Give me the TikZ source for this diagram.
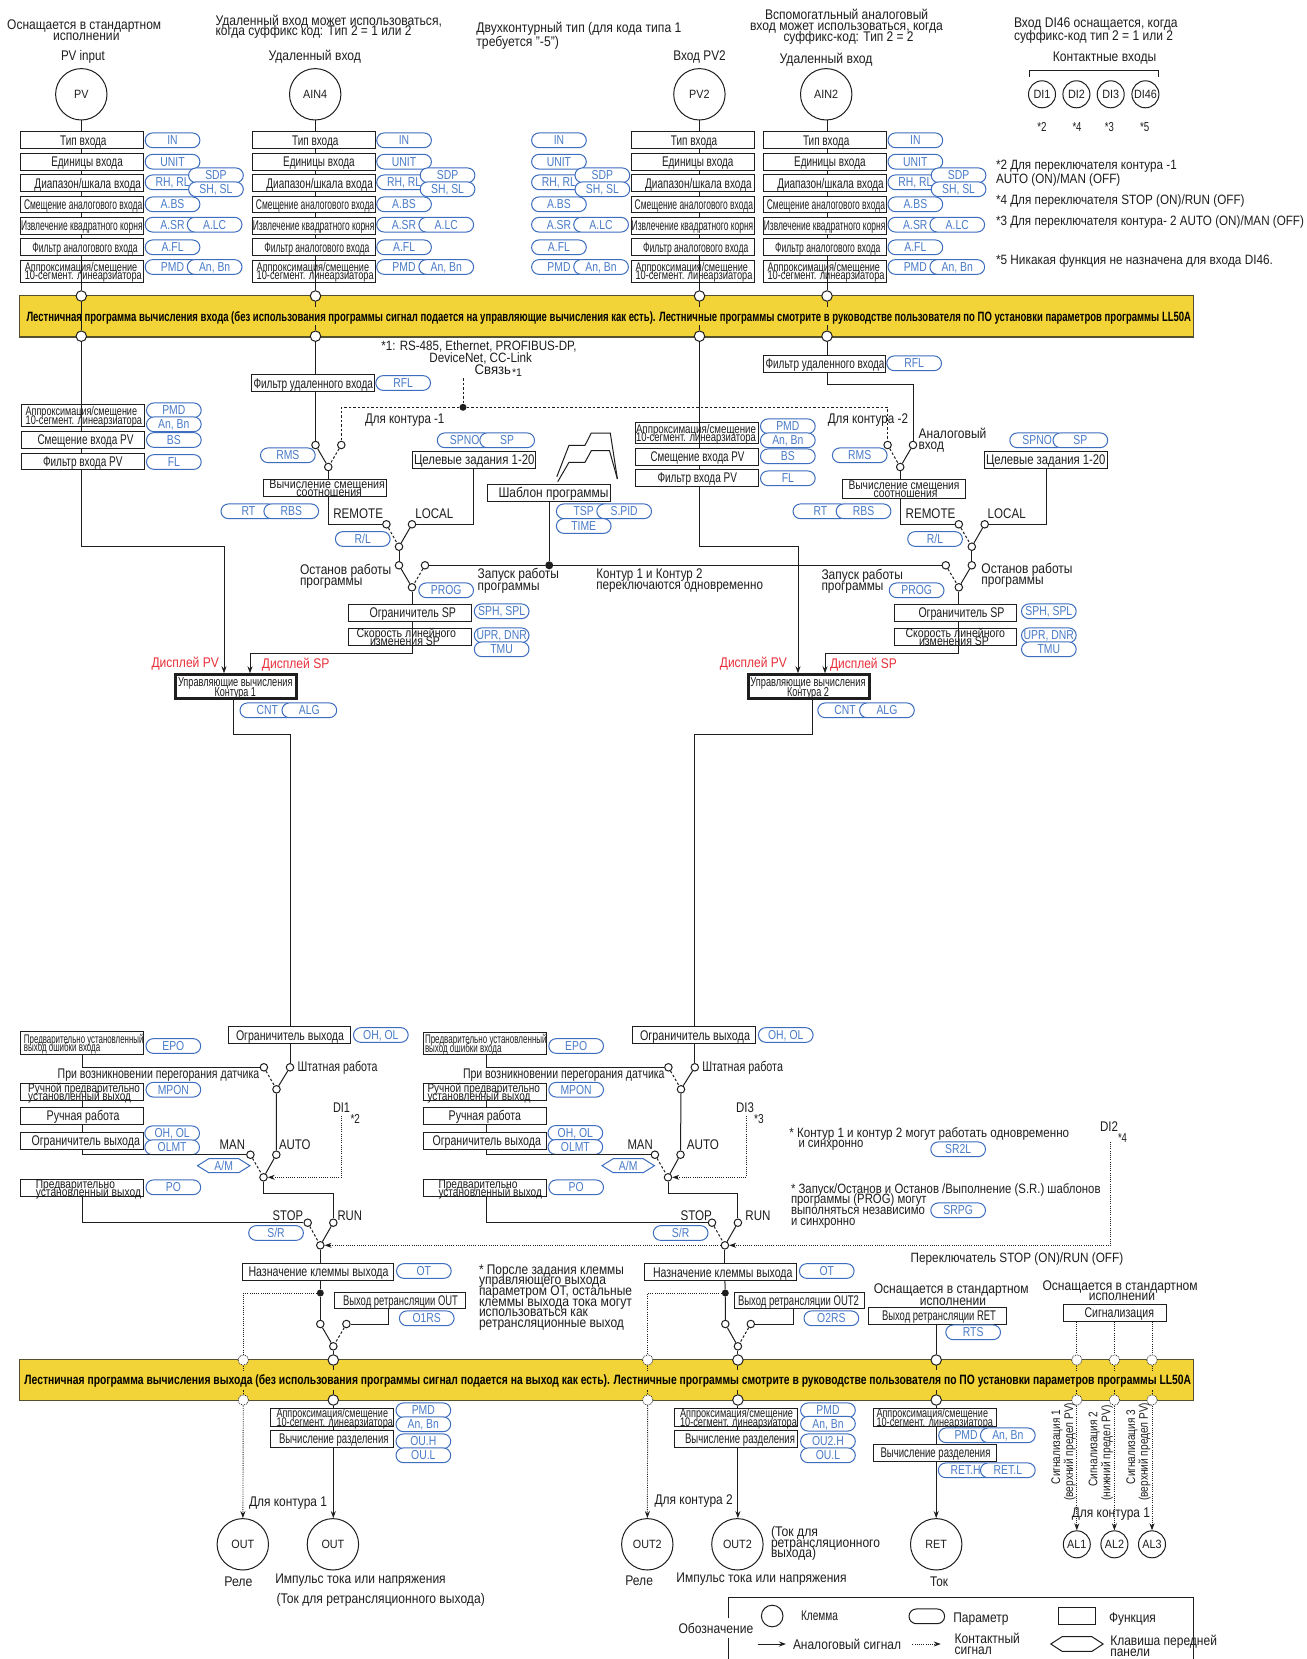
\documentclass[tikz,border=0pt]{standalone}
\usepackage{fontspec}
\usepackage{graphicx}
\setmainfont{Liberation Sans}
\usetikzlibrary{arrows.meta,shapes.misc,calc}
\AtBeginDocument{\lineskiplimit=-100pt\relax}
\definecolor{ink}{HTML}{1E1E1E}
\definecolor{barfill}{HTML}{F2D338}
\definecolor{barline}{HTML}{55512E}
\definecolor{pline}{HTML}{3C6DBE}
\definecolor{ptext}{HTML}{4A7BC8}
\definecolor{dispred}{HTML}{E8303A}
\newsavebox\fitbox
\newcounter{tn}
\newcommand\fit[2]{\sbox\fitbox{#2}\pgfmathsetmacro\fitscale{(#1)/\the\wd\fitbox}\scalebox{\fitscale}[1]{\usebox\fitbox}}
% free text: [size]{x1}{x2}{y}{text}
\newcommand\Tx[5][14]{\stepcounter{tn}\pgfmathsetmacro\tcx{(#2+#3)/2}\pgfmathsetmacro\tby{#4+0.34*#1}%
 \node[txt,font=\fontsize{#1}{#1}\selectfont] (t\arabic{tn}) at (\tcx,\tby) {\fit{#3-#2}{#5}};}
% rotated text
\newcommand\Rt[5][12.5]{\stepcounter{tn}\pgfmathsetmacro\tcy{(#3+#4)/2}%
 \node[rotate=90,inner sep=0pt,text=ink,font=\fontsize{#1}{#1}\selectfont] (t\arabic{tn}) at (#2,\tcy) {\fit{#3-#4}{#5}};}
% function box: [style]{name}{x1}{x2}{y1}{y2}{content}
\newcommand\FB[7][fn]{\pgfmathsetmacro\bw{#4-#3}\pgfmathsetmacro\bh{#6-#5}\pgfmathsetmacro\bcx{(#3+#4)/2}\pgfmathsetmacro\bcy{(#5+#6)/2}\pgfmathsetmacro\bxl{#3}%
 \node[#1,minimum width=\bw pt,minimum height=\bh pt] (#2) at (\bcx,\bcy) {#7};}
\newcommand\BL[3]{\makebox[\bw pt][l]{\rule{0pt}{.72em}\hspace*{#1pt}\smash{\fit{#2}{#3}}}}
\newcommand\BA[3]{\pgfmathsetmacro\boff{#1-\bxl}\pgfmathsetmacro\bwid{#2-#1}\BL{\boff}{\bwid}{#3}}
% parameter pill: [w]{name}{x1}{y}{text}
\newcommand\PL[5][54.7]{\pgfmathsetmacro\pcx{#3+#1/2}\node[pill,minimum width=#1 pt] (#2) at (\pcx,#4) {\rule{0pt}{.72em}\smash{\scalebox{.8}[1]{#5}}};}
\newcommand\lab[1]{\rule{0pt}{.72em}\smash{\scalebox{.9}[1]{#1}}}
% hexagon key
\newcommand\HX[5][]{\draw[pl] (#3-26.2,#4) -- (#3-15,#4-7) -- (#3+15,#4-7) -- (#3+26.2,#4) -- (#3+15,#4+7) -- (#3-15,#4+7) -- cycle;
 \node[inner sep=0pt,text=ptext,font=\fontsize{13}{13}\selectfont] (#2) at (#3,#4) {\rule{0pt}{.72em}\smash{\scalebox{.8}[1]{#5}}};}
% switch: {name}{solid x}{dash x}{y top}{out x}{out y}
\newcommand\SW[6]{\node[term] (#1s) at (#2,#4) {}; \node[term] (#1d) at (#3,#4) {}; \node[term] (#1o) at (#5,#6) {};
 \draw[wire] (#1s) -- (#1o); \draw[wire,dsh] (#1d) -- (#1o);}
% input column
\newcommand\InCol[7]{%
 \node[big] (#1c) at (#3,94.3) {\lab{#4}};
 \coordinate (#1w) at (#2,0);
 \pgfmathsetmacro\brgt{#5+122.9}%
 \edef\bRR{\brgt}%
 \FB{#1typ}{#5}{\bRR}{131.7}{148.7}{\BL{39.6}{46.3}{Тип входа}}
 \FB{#1uni}{#5}{\bRR}{153.3}{170}{\BL{30.7}{71.5}{Единицы входа}}
 \FB{#1rng}{#5}{\bRR}{174.7}{191.3}{\BL{13.9}{106.5}{Диапазон/шкала входа}}
 \FB{#1abs}{#5}{\bRR}{196}{212.7}{\BL{3.4}{118.3}{Смещение аналогового входа}}
 \FB{#1sqr}{#5}{\bRR}{217.3}{234}{\BL{.4}{121.6}{Извлечение квадратного корня}}
 \FB{#1afl}{#5}{\bRR}{238.7}{255.3}{\BL{11.8}{105.2}{Фильтр аналогового входа}}
 \FB[fnb]{#1lin}{#5}{\bRR}{260}{282}{\BL{4.2}{112.4}{Аппроксимация/смещение}\\\BL{4.2}{117}{10-сегмент.  линеарзиатора}}
 \PL{#1pi}{#6}{140.3}{IN}\PL{#1pu}{#6}{161.7}{UNIT}\PL{#1pr}{#6}{182.3}{RH, RL}
 \PL{#1ps}{#7}{175.3}{SDP}\PL{#1pt}{#7}{189.3}{SH, SL}
 \PL{#1pb}{#6}{204.3}{A.BS}\PL{#1pq}{#6}{224.7}{A.SR}\pgfmathsetmacro\lcx{#7-1.3}\edef\lcX{\lcx}\PL{#1pl}{\lcX}{224.7}{A.LC}
 \PL{#1pf}{#6}{247.3}{A.FL}\PL{#1pm}{#6}{267}{PMD}\PL{#1pa}{\lcX}{267}{An, Bn}
 \node[bc] (#1bt) at (#2,296) {}; \node[bc] (#1bb) at (#2,336.2) {};
 \draw[wire] (#1c.south -| #1w) -- (#1typ.north -| #1w)
   (#1typ.south -| #1w) -- (#1uni.north -| #1w)
   (#1uni.south -| #1w) -- (#1rng.north -| #1w)
   (#1rng.south -| #1w) -- (#1abs.north -| #1w)
   (#1abs.south -| #1w) -- (#1sqr.north -| #1w)
   (#1sqr.south -| #1w) -- (#1afl.north -| #1w)
   (#1afl.south -| #1w) -- (#1bt);
 \draw[wire] (#1bt.south) -- ++(0,5) (#1bb.north) -- ++(0,-5);
}
\tikzset{
 txt/.style={anchor=base,inner sep=0pt,text=ink},
 fn/.style={draw=ink,fill=white,line width=1pt,inner sep=0pt,align=center,text=ink,font=\fontsize{14}{14}\selectfont},
 fnb/.style={fn,font=\fontsize{12.5}{8.5}\selectfont},
 fnc/.style={fn,line width=3pt,font=\fontsize{13}{10.5}\selectfont},
 pill/.style={shape=rounded rectangle,draw=pline,fill=white,line width=1pt,minimum height=14.7pt,inner sep=0pt,text=ptext,font=\fontsize{13}{13}\selectfont},
 pl/.style={draw=pline,line width=1pt},
 big/.style={circle,draw=ink,fill=white,line width=1pt,minimum size=51.4pt,inner sep=0pt,text=ink,font=\fontsize{12}{12}\selectfont},
 med/.style={circle,draw=ink,fill=white,line width=1pt,minimum size=27pt,inner sep=0pt,text=ink,font=\fontsize{12}{12}\selectfont},
 term/.style={circle,draw=ink,fill=white,line width=1pt,minimum size=7.5pt,inner sep=0pt},
 bc/.style={circle,draw=ink,fill=white,line width=1pt,minimum size=10.5pt,inner sep=0pt},
 bcd/.style={circle,draw=ink,densely dotted,fill=white,line width=.8pt,minimum size=10.5pt,inner sep=0pt},
 dotj/.style={circle,fill=ink,minimum size=7pt,inner sep=0pt},
 wire/.style={draw=ink,line width=1pt},
 dsh/.style={dash pattern=on 2.5pt off 2pt},
 dot/.style={draw=ink,line width=.9pt,dash pattern=on 1pt off 1.2pt},
 arr/.style={-{Stealth[length=7pt,width=5pt]}},
 barbox/.style={draw=barline,fill=barfill,line width=1.3pt,inner sep=0pt,text=black,font=\fontsize{13.5}{13.5}\selectfont\bfseries},
}
\begin{document}
\begin{tikzpicture}[x=1pt,y=-1pt]
\useasboundingbox (0,0) rectangle (1306,1659);
\fill[white] (0,0) rectangle (1306,1659);
% ---- bars
\FB[barbox]{bar1}{19.4}{1193.5}{295.7}{337}{\BA{26.5}{1191}{Лестничная программа вычисления входа (без использования программы сигнал подается на управляющие вычисления как есть). Лестничные программы смотрите в руководстве пользователя  по ПО установки параметров программы LL50A}}
\FB[barbox]{bar2}{19.4}{1193.5}{1359.3}{1400.7}{\BA{24.4}{1191}{Лестничная программа вычисления выхода (без использования программы сигнал подается на выход как есть). Лестничные программы смотрите в руководстве пользователя  по ПО установки параметров программы LL50A}}
% ---- header texts
\Tx{7.2}{161.2}{25}{Оснащается в стандартном}
\Tx{53}{119.5}{36}{исполнении}
\Tx{61}{104.8}{56}{PV input}
\Tx{215.5}{442}{21}{Удаленный вход может использоваться,}
\Tx{215.5}{411.6}{31}{когда суффикс код: Тип 2 = 1 или 2}
\Tx{268.5}{361}{55.7}{Удаленный вход}
\Tx{476.4}{681.4}{28}{Двухконтурный тип  (для кода типа 1}
\Tx{476.4}{558.9}{41.7}{требуется "-5")}
\Tx{765}{928.2}{14.7}{Вспомогатльный аналоговый}
\Tx{750}{942.9}{25.7}{вход может использоваться, когда}
\Tx{783.5}{913.6}{36.3}{суффикс-код: Тип 2 = 2}
\Tx{673.4}{725.7}{56}{Вход PV2}
\Tx{779.7}{872.6}{58.7}{Удаленный вход}
\Tx{1014}{1177.6}{22.7}{Вход DI46 оснащается, когда}
\Tx{1014}{1173}{35.7}{суффикс-код тип 2 = 1 или 2}
\Tx{1052.9}{1156.3}{56.7}{Контактные входы}
\draw[wire] (1029,77) -- (1029,71) -- (1158,71) -- (1158,77);
\node[med] (di1) at (1042,94.3) {\lab{DI1}};
\node[med] (di2) at (1076.4,94.3) {\lab{DI2}};
\node[med] (di3) at (1110.7,94.3) {\lab{DI3}};
\node[med] (di4) at (1145.4,94.3) {\lab{DI46}};
\Tx[13]{1037.4}{1046.7}{127}{*2}
\Tx[13]{1072.5}{1081.5}{127}{*4}
\Tx[13]{1104.9}{1113.9}{127}{*3}
\Tx[13]{1140}{1149.2}{127}{*5}
\Tx[13.5]{996}{1176.8}{165.3}{*2 Для переключателя контура -1}
\Tx[13.5]{996}{1120.3}{179}{AUTO (ON)/MAN (OFF)}
\Tx[13.5]{996}{1244.6}{200}{*4 Для переключателя STOP (ON)/RUN (OFF)}
\Tx[13.5]{996}{1304}{221}{*3 Для переключателя контура- 2 AUTO (ON)/MAN (OFF)}
\Tx[13.5]{996}{1273}{260}{*5 Никакая функция не назначена для входа  DI46.}
% ---- input columns
\InCol{c1}{81.3}{81.3}{PV}{20.6}{145.2}{188.6}
\InCol{c2}{315.5}{315.2}{AIN4}{252.5}{376.7}{420.2}
\InCol{c3}{699.5}{699.4}{PV2}{631.3}{531.6}{575}
\InCol{c4}{827}{826.2}{AIN2}{763.4}{888}{931.2}
\draw[wire] (c1bt) -- (c1bb);
% ---- middle: loop 1 side
\Tx[13.5]{381.3}{576.6}{346}{*1: RS-485, Ethernet, PROFIBUS-DP,}
\Tx[13.5]{429.3}{532}{358}{DeviceNet, CC-Link}
\Tx{474.7}{511}{369.7}{Связь}
\Tx[11]{512}{522}{372.7}{*1}
\Tx{365}{444.4}{419}{Для контура -1}
\FB[fnb]{p1lin}{21.5}{144.4}{404.3}{426.7}{\BA{25.7}{137}{Аппроксимация/смещение}\\\BA{25.7}{142}{10-сегмент.  линеарзиатора}}
\FB{p1bs}{21.5}{144.4}{431.3}{448.3}{\BA{37.5}{133.5}{Смещение входа PV}}
\FB{p1fl}{21.5}{144.4}{453}{469.7}{\BA{43}{122.5}{Фильтр входа PV}}
\PL{q1pm}{146.5}{410.3}{PMD}\PL{q1pa}{146.5}{424.3}{An, Bn}\PL{q1bs}{146.5}{440}{BS}\PL{q1fl}{146.5}{462}{FL}
\FB{rfl1}{251.7}{374.6}{374.7}{391.7}{\BA{253.5}{373}{Фильтр удаленного входа}}
\PL{rflp1}{375.8}{383}{RFL}
\PL{rmsp1}{260.5}{455.3}{RMS}
\FB[fnb]{rsb1}{263.9}{386.4}{479.3}{496.3}{\BA{269.4}{385}{Вычисление смещения}\\\BA{296.3}{362}{соотношения}}
\PL{rtp1}{221}{511.3}{RT}\PL{rbs1}{263.9}{511.3}{RBS}
\Tx{333.3}{383}{514}{REMOTE}
\Tx{415.4}{453.3}{514}{LOCAL}
\PL{rlp1}{335.4}{539}{R/L}
\FB{tg1}{412.5}{535.4}{451.3}{468.3}{\BA{414}{534.5}{Целевые задания 1-20}}
\PL{spn1}{437.3}{440.3}{SPNO}\PL{sp1}{479.8}{440.3}{SP}
\FB{tpl}{487.4}{610.7}{484.3}{501.3}{\BA{498.5}{608.5}{Шаблон программы}}
\PL{tsp}{556.4}{511.3}{TSP}\PL{spid}{596.8}{511.3}{S.PID}\PL{tim}{556.4}{526}{TIME}
\draw[ink,line width=1pt] (556.8,476.7) -- (569,445.3) -- (585,445.3) -- (591.3,433) -- (610.3,433) -- (617.4,479);
\draw[ink,line width=1pt] (557.7,481.7) -- (569,462.3) -- (585,462.3) -- (591.3,450.7) -- (609.5,450.7) -- (617.4,479);
\Tx{300}{391.4}{570}{Останов работы}
\Tx{300}{362.5}{580.3}{программы}
\PL{prog1}{418.8}{590.3}{PROG}
\Tx{477.7}{559}{574}{Запуск работы}
\Tx{477.7}{539.6}{585.3}{программы}
\Tx{596.4}{702.5}{574}{Контур 1 и Контур 2}
\Tx{596.4}{763}{584.3}{переключаются одновременно}
\FB{sl1}{348.9}{471.4}{604}{621}{\BA{369.5}{456}{Ограничитель SP}}
\PL{slp1}{474.3}{611.3}{SPH, SPL}
\FB[fnb]{rr1}{348.9}{471.4}{628.3}{645.3}{\BA{356.5}{456}{Скорость линейного}\\\BA{370}{440}{изменения SP}}
\PL{upr1}{474.3}{635.3}{UPR, DNR}\PL{tmu1}{474.3}{649.3}{TMU}
\begin{scope}[txt/.append style={text=dispred}]
\Tx{151.5}{218.9}{662.7}{Дисплей PV}
\Tx{261.8}{329.5}{663.3}{Дисплей SP}
\Tx{719.9}{786.8}{662.7}{Дисплей PV}
\Tx{830}{896.9}{663.3}{Дисплей SP}
\end{scope}
\FB[fnc]{ctl1}{175.3}{296.1}{674.8}{698.5}{\BA{178}{292.5}{Управляющие вычисления}\\\BA{214.5}{256}{Контура 1}}
\PL{cnt1}{240}{710.3}{CNT}\PL{alg1}{282}{710.3}{ALG}
% ---- middle: loop 2 side
\Tx{827.8}{908}{418.3}{Для контура -2}
\Tx{918.6}{986.4}{433.7}{Аналоговый}
\Tx{918.6}{944}{445}{вход}
\FB[fnb]{p2lin}{635.5}{758.8}{422.7}{443.3}{\BA{636}{756}{Аппроксимация/смещение}\\\BA{636}{756}{10-сегмент.  линеарзиатора}}
\FB{p2bs}{635.5}{758.8}{448.3}{465.3}{\BA{650.5}{744.5}{Смещение входа PV}}
\FB{p2fl}{635.5}{758.8}{469.3}{486.3}{\BA{657.5}{737}{Фильтр входа PV}}
\PL{q2pm}{760.5}{426.3}{PMD}\PL{q2pa}{760.5}{440.3}{An, Bn}\PL{q2bs}{760.5}{456.3}{BS}\PL{q2fl}{760.5}{478.3}{FL}
\FB{rfl2}{763}{885.6}{355}{372}{\BA{765.5}{884.5}{Фильтр удаленного входа}}
\PL{rflp2}{886.8}{363.3}{RFL}
\PL{rmsp2}{832.4}{455.3}{RMS}
\FB[fnb]{rsb2}{842.5}{965.5}{479.3}{498.7}{\BA{848.5}{959.5}{Вычисление смещения}\\\BA{873.5}{937.5}{соотношения}}
\PL{rtp2}{793}{511.3}{RT}\PL{rbs2}{836.2}{511.3}{RBS}
\Tx{905.6}{955.4}{514}{REMOTE}
\Tx{987.7}{1025.7}{514}{LOCAL}
\PL{rlp2}{907.7}{539}{R/L}
\FB{tg2}{984.7}{1107.3}{451.3}{468.3}{\BA{986}{1105.5}{Целевые задания 1-20}}
\PL{spn2}{1009.8}{440.3}{SPNO}\PL{sp2}{1053}{440.3}{SP}
\Tx{981.4}{1072.6}{569}{Останов работы}
\Tx{981.4}{1043.7}{579.3}{программы}
\Tx{821.5}{903}{575}{Запуск работы}
\Tx{821.5}{883.5}{586}{программы}
\PL{prog2}{889.3}{590.3}{PROG}
\FB{sl2}{894.4}{1016.5}{604}{621}{\BA{918.5}{1004.5}{Ограничитель SP}}
\PL{slp2}{1021.5}{611.3}{SPH, SPL}
\FB[fnb]{rr2}{894.4}{1016.5}{628.3}{645.3}{\BA{905.5}{1005}{Скорость линейного}\\\BA{919}{989}{изменения SP}}
\PL{upr2}{1021.5}{635.3}{UPR, DNR}\PL{tmu2}{1021.5}{649.3}{TMU}
\FB[fnc]{ctl2}{748.2}{869.5}{674.8}{698.8}{\BA{750.4}{865.5}{Управляющие вычисления}\\\BA{787}{829}{Контура 2}}
\PL{cnt2}{817.8}{710.3}{CNT}\PL{alg2}{859.6}{710.3}{ALG}
% ---- middle switches and wires
\SW{rms1}{315.5}{341.3}{445}{328.3}{467}
\SW{rl1}{412}{386.4}{524.3}{399}{546.7}
\SW{pr1}{399}{425}{565.3}{412}{587.3}
\SW{rms2}{913}{887.6}{445}{900.2}{467}
\SW{rl2}{984.7}{958.8}{524.3}{971.8}{546.7}
\SW{pr2}{971.8}{945.8}{565.3}{958.8}{587.3}
\node[dotj] (jcomm) at (463,407.3) {};
\coordinate (commtop) at (463,378);
\draw[wire,dsh] (commtop) -- (jcomm);
\draw[wire,dsh] (jcomm) -| (rms1d);
\draw[wire,dsh] (jcomm) -| (rms2d);
\node[dotj,minimum size=8pt] (jprog) at (549.2,565.3) {};
\draw[wire] (pr1d) -- (jprog) -- (pr2d);
\draw[wire] (tpl.south -| jprog) -- (jprog);
% loop 1 lines
\coordinate (k1) at (224,546.3); \coordinate (k3) at (250,653.3); \coordinate (k2) at (473.5,524.3);
\draw[wire] (c1bb) -- (p1bs.north -| c1w) (p1bs.south -| c1w) -- (p1fl.north -| c1w);
\draw[wire,arr] (p1fl.south -| c1w) |- (k1) -- (ctl1.north -| k1);
\draw[wire] (c2bb) -- (rfl1.north -| c2w) (rfl1.south -| c2w) -- (rms1s);
\draw[wire] (rms1o) -- (rsb1.north -| rms1o);
\draw[wire] (rsb1.south -| rms1o) |- (rl1d);
\draw[wire] (rl1s) -- (k2) -- (tg1.south -| k2);
\draw[wire] (rl1o) -- (pr1s);
\draw[wire] (pr1o) -- (sl1.north -| pr1o);
\draw[wire,arr] (sl1.south -| pr1o) |- (k3) -- (ctl1.north -| k3);
% loop 2 lines
\coordinate (k4) at (798,546.3); \coordinate (k9) at (825,653.3); \coordinate (k10) at (1046.2,524.3); \coordinate (k11) at (913,384);
\draw[wire] (c3bb) -- (p2bs.north -| c3w) (p2bs.south -| c3w) -- (p2fl.north -| c3w);
\draw[wire,arr] (p2fl.south -| c3w) |- (k4) -- (ctl2.north -| k4);
\draw[wire] (c4bb) -- (rfl2.north -| c4w);
\draw[wire] (rfl2.south -| c4w) |- (k11) -- (rms2s);
\draw[wire] (rms2o) -- (rsb2.north -| rms2o);
\draw[wire] (rsb2.south -| rms2o) |- (rl2d);
\draw[wire] (rl2s) -- (k10) -- (tg2.south -| k10);
\draw[wire] (rl2o) -- (pr2s);
\draw[wire] (pr2o) -- (sl2.north -| pr2o);
\draw[wire,arr] (sl2.south -| pr2o) |- (k9) -- (ctl2.north -| k9);
% ---- output section, loop 1
\FB{ol1}{228.5}{350.6}{1026.7}{1043.3}{\BA{236}{344}{Ограничитель выхода}}
\PL{olp1}{353.5}{1035}{OH, OL}
\Tx{297.6}{377.5}{1066.7}{Штатная работа}
\Tx{57.7}{259.3}{1073.7}{При возникновении перегорания датчика}
\FB[fnb]{ep1}{20.6}{143.5}{1031.7}{1054}{\BA{24}{143.5}{Предварительно установленный}\\\BA{24}{100.2}{выход ошибки входа}}
\PL{epp1}{146}{1046}{EPO}
\FB[fnb]{mp1}{20.6}{143.5}{1083.7}{1100.3}{\BA{28.2}{140}{Ручной предварительно}\\\BA{28.2}{131}{установленный выход}}
\PL{mpp1}{146}{1089.7}{MPON}
\FB{mn1}{20.6}{143.5}{1107.3}{1124.3}{\BA{46.7}{119.5}{Ручная работа}}
\FB{lm1}{20.6}{143.5}{1132.3}{1149.3}{\BA{31.6}{140}{Ограничитель выхода}}
\PL{lmp1}{144.8}{1133.3}{OH, OL}\PL{olm1}{144.8}{1147.3}{OLMT}
\Tx{219.7}{245}{1145}{MAN}
\Tx{279}{310.6}{1145}{AUTO}
\HX{amk1}{223.7}{1165.7}{A/M}
\Tx{333}{350}{1108}{DI1}
\Tx[13]{350.6}{360}{1118.7}{*2}
\FB[fnb]{po1}{20.6}{143.5}{1179.3}{1196.3}{\BA{35.8}{115}{Предварительно}\\\BA{35.8}{141}{установленный выход}}
\PL{pop1}{146}{1187.3}{PO}
\Tx{272.7}{303}{1216}{STOP}
\Tx{337.5}{362}{1216}{RUN}
\PL{srp1}{248.7}{1233}{S/R}
\FB{ot1}{242}{393.5}{1263.3}{1280.3}{\BA{248.5}{388.5}{Назначение клеммы выхода}}
\PL{otp1}{396.5}{1271}{OT}
\FB{rt1}{334.6}{465}{1292}{1308.7}{\BA{343}{458}{Выход ретрансляции OUT}}
\PL{rtp3}{399.4}{1318.3}{O1RS}
\Tx{479}{624}{1270}{* Порсле задания клеммы}
\Tx{479}{606}{1280}{управляющего выхода}
\Tx{479}{632}{1291}{параметром ОТ, остальные}
\Tx{479}{632}{1302}{клеммы выхода тока  могут}
\Tx{479}{588}{1312}{использоваться как}
\Tx{479}{624}{1323}{ретрансляционные выход}
\FB[fnb]{ap1}{270.6}{393.5}{1409}{1426}{\BA{276.5}{388}{Аппроксимация/смещение}\\\BA{276.5}{393}{10-сегмент.  линеарзиатора}}
\PL{app1}{396}{1410.3}{PMD}\PL{apa1}{396}{1424.3}{An, Bn}
\FB{ds1}{270.6}{393.5}{1430.3}{1447.3}{\BA{279}{388.5}{Вычисление разделения}}
\PL{ouh1}{396}{1441.3}{OU.H}\PL{oul1}{396}{1455.3}{OU.L}
\Tx{249}{327}{1502}{Для контура 1}
\Tx{224.3}{252.5}{1581.7}{Реле}
\Tx{275.3}{445.7}{1579}{Импульс тока или напряжения}
\Tx{276.5}{484.8}{1598.7}{(Ток для ретрансляционного выхода)}
\node[big] (outr1) at (242.8,1544.3) {\lab{OUT}};
\node[big] (outp1) at (332.9,1544.3) {\lab{OUT}};
% ---- output section, loop 2
\FB{ol2}{632.6}{755.4}{1026.7}{1043.3}{\BA{640}{750}{Ограничитель выхода}}
\PL{olp2}{758.4}{1035}{OH, OL}
\Tx{702.3}{783}{1066.7}{Штатная работа}
\Tx{463}{664.6}{1073.7}{При возникновении перегорания датчика}
\FB[fnb]{ep2}{423.8}{546.7}{1032.7}{1054.3}{\BA{425}{546.7}{Предварительно установленный}\\\BA{425}{501.5}{выход ошибки входа}}
\PL{epp2}{548.8}{1046}{EPO}
\FB[fnb]{mp2}{423.8}{546.7}{1083.7}{1100.3}{\BA{427.5}{540}{Ручной предварительно}\\\BA{427.5}{530.5}{установленный выход}}
\PL{mpp2}{548.8}{1089.7}{MPON}
\FB{mn2}{423.8}{546.7}{1107.3}{1124.3}{\BA{448.7}{521}{Ручная работа}}
\FB{lm2}{423.8}{546.7}{1132.3}{1149.3}{\BA{432.5}{541}{Ограничитель выхода}}
\PL{lmp2}{548}{1133}{OH, OL}\PL{olm2}{548}{1147}{OLMT}
\Tx{627.5}{652.8}{1145}{MAN}
\Tx{686.8}{719}{1145}{AUTO}
\HX{amk2}{628.2}{1165.7}{A/M}
\Tx{736.2}{754}{1108}{DI3}
\Tx[13]{754.2}{763.8}{1118.7}{*3}
\FB[fnb]{po2}{423.8}{546.7}{1179.3}{1196.3}{\BA{438.5}{517.5}{Предварительно}\\\BA{438.5}{542}{установленный выход}}
\PL{pop2}{548.8}{1187.3}{PO}
\Tx{680.5}{712}{1216}{STOP}
\Tx{745.4}{770.5}{1216}{RUN}
\PL{srp2}{653.3}{1233}{S/R}
\FB{ot2}{644.4}{796.4}{1263.7}{1280.3}{\BA{653}{792.5}{Назначение клеммы выхода}}
\PL{otp2}{799.4}{1271}{OT}
\FB{rt2}{734}{864.6}{1292}{1308.7}{\BA{738}{859}{Выход ретрансляции OUT2}}
\PL{rtp4}{804}{1318.3}{O2RS}
\Tx[13.5]{789.3}{1069.2}{1132.7}{* Контур 1 и контур 2 могут работать одновременно}
\Tx[13.5]{798.5}{863.4}{1143}{и синхронно}
\PL{sr2l}{930.8}{1149.3}{SR2L}
\Tx[13.5]{791}{1100.6}{1188.7}{* Запуск/Останов и Останов /Выполнение (S.R.) шаблонов}
\Tx[13.5]{791}{926.6}{1199}{программы (PROG) могут}
\Tx[13.5]{791}{924.9}{1210}{выполняться независимо}
\Tx[13.5]{791}{855.4}{1221}{и синхронно}
\PL{srpg}{930.8}{1210.3}{SRPG}
\Tx{1100}{1118}{1127}{DI2}
\Tx[13]{1118}{1127}{1137.7}{*4}
\Tx[13.5]{910.7}{1123.2}{1258.3}{Переключатель STOP (ON)/RUN (OFF)}
\FB[fnb]{ap2}{674.7}{797.7}{1409}{1426}{\BA{680}{793}{Аппроксимация/смещение}\\\BA{680}{797}{10-сегмент.  линеарзиатора}}
\PL{app2}{800.6}{1410.3}{PMD}\PL{apa2}{800.6}{1423.7}{An, Bn}
\FB{ds2}{674.7}{797.7}{1430.3}{1447.3}{\BA{685}{795}{Вычисление разделения}}
\PL{ouh2}{800.6}{1441.3}{OU2.H}\PL{oul2}{800.6}{1455.3}{OU.L}
\Tx{654.6}{732.8}{1500}{Для контура 2}
\Tx{625.4}{653}{1580.7}{Реле}
\Tx{676.4}{846.6}{1578}{Импульс тока или напряжения}
\Tx{771}{818}{1532}{(Ток для}
\Tx{771}{880}{1543}{ретрансляционного}
\Tx{771}{816}{1553}{выхода)}
\node[big] (outr2) at (647.3,1544.3) {\lab{OUT2}};
\node[big] (outp2) at (737.4,1544.3) {\lab{OUT2}};
% ---- RET column
\Tx{873.8}{1028.7}{1289}{Оснащается в стандартном}
\Tx{919.9}{986}{1300.3}{исполнении}
\FB{rb}{868.4}{1006}{1307}{1324}{\BA{882}{996}{Выход ретрансляции RET}}
\PL{rts}{945.8}{1332.3}{RTS}
\FB[fnb]{rap}{873.8}{996.4}{1409}{1426}{\BA{876.5}{988}{Аппроксимация/смещение}\\\BA{876.5}{993}{10-сегмент.  линеарзиатора}}
\PL{rpm}{938.7}{1435.3}{PMD}\PL{ran}{980.5}{1435.3}{An, Bn}
\FB{rd}{873.8}{996.4}{1444.3}{1461.3}{\BA{880.5}{990.5}{Вычисление разделения}}
\PL{rth}{938.3}{1470.3}{RET.H}\PL{rtl}{980.5}{1470.3}{RET.L}
\node[big] (retc) at (936.2,1544.3) {\lab{RET}};
\Tx{930}{948}{1582}{Ток}
% ---- alarms
\Tx{1042.5}{1197.7}{1286}{Оснащается в стандартном}
\Tx{1088.9}{1155}{1296}{исполнении}
\FB{alb}{1063.8}{1166.7}{1304}{1321}{\BA{1084.5}{1154}{Сигнализация}}
\Rt{1057}{1484}{1410}{Сигнализация 1}
\Rt{1069.7}{1500.7}{1402.7}{(верхний предел PV)}
\Rt{1094.3}{1486.7}{1411.7}{Сигнализация 2}
\Rt{1107}{1500.7}{1405}{(нижний предел PV)}
\Rt{1132}{1484}{1410}{Сигнализация 3}
\Rt{1144.6}{1500.7}{1402.7}{(верхний предел PV)}
\Tx{1071.8}{1150}{1513}{Для контура 1}
\node[med] (al1) at (1076.8,1544.3) {\lab{AL1}};
\node[med] (al2) at (1114.4,1544.3) {\lab{AL2}};
\node[med] (al3) at (1152,1544.3) {\lab{AL3}};
% ---- output switches
\SW{bo1}{290}{263.9}{1067.3}{276.5}{1089.3}
\SW{am1}{276.3}{250.4}{1154.7}{263.5}{1177.3}
\SW{sr1}{333.3}{307.7}{1222.7}{320.3}{1245.3}
\SW{rs1}{320.3}{346.4}{1324}{333.3}{1346.3}
\SW{bo2}{694.8}{668.4}{1067.3}{681}{1089.3}
\SW{am2}{680.5}{654.9}{1154.7}{668}{1177.3}
\SW{sr2}{737.9}{712}{1222.7}{724.9}{1245.3}
\SW{rs2}{725.3}{750.8}{1324}{737.9}{1346.3}
% ---- bar 2 terminals
\foreach \nm/\xx in {a/243.3,c/647.7,p/1076.8,q/1114.4,r/1152}{
 \node[bcd] (\nm bt) at (\xx,1360) {}; \node[bcd] (\nm bb) at (\xx,1400) {};
 \draw[dot] (\nm bt.south) -- ++(0,4.5) (\nm bb.north) -- ++(0,-4.5);}
\foreach \nm/\xx in {b/333.3,d/737.9,e/936.2}{
 \node[bc] (\nm bt) at (\xx,1360) {}; \node[bc] (\nm bb) at (\xx,1400) {};
 \draw[wire] (\nm bt.south) -- ++(0,4.5) (\nm bb.north) -- ++(0,-4.5);}
% ---- output wires loop 1
\coordinate (k5) at (233,734.7); \coordinate (k6) at (290,734.7); \coordinate (xa1) at (82,0);
\coordinate (di1b) at (341.8,1116); \coordinate (di1c) at (341.8,1177.3); \coordinate (k7) at (333.3,1193.7); \coordinate (k8) at (388.5,1324);
\draw[wire] (ctl1.south -| k5) -- (k5) -- (k6) -- (ol1.north -| k6);
\draw[wire] (ol1.south -| k6) -- (bo1s);
\draw[wire] (ep1.south -| xa1) |- (bo1d);
\draw[wire] (bo1o) -- (am1s);
\draw[wire] (mp1.south -| xa1) -- (mn1.north -| xa1) (mn1.south -| xa1) -- (lm1.north -| xa1);
\draw[wire] (lm1.south -| xa1) |- (am1d);
\draw[wire] (po1.south -| xa1) |- (sr1d);
\draw[wire] (am1o) |- (k7) -- (sr1s);
\draw[dot,arr] (di1b) -- (di1c) -- (am1o);
\draw[wire] (sr1o) -- (ot1.north -| sr1o);
\node[dotj] (j1) at (320.3,1293) {};
\draw[wire] (ot1.south -| sr1o) -- (j1) -- (rs1s);
\draw[dot] (j1) -| (abt);
\draw[wire] (rt1.south -| k8) -- (k8) -- (rs1d);
\draw[wire] (rs1o) -- (bbt);
\draw[dot,arr] (abb) -- (outr1);
\draw[wire] (bbb) -- (ap1.north -| bbb);
\draw[wire] (ap1.south -| bbb) -- (ds1.north -| bbb);
\draw[wire,arr] (ds1.south -| bbb) -- (outp1.north -| bbb);
% ---- output wires loop 2
\coordinate (k12) at (812.8,734.7); \coordinate (k13) at (694.8,734.7); \coordinate (xa2) at (486.5,0);
\coordinate (di3b) at (746.7,1116); \coordinate (di3c) at (746.7,1177.3); \coordinate (k14) at (737.9,1193.7); \coordinate (k15) at (793.1,1324);
\coordinate (di2b) at (1110.7,1141.7); \coordinate (di2c) at (1110.7,1245.3);
\draw[wire] (ctl2.south -| k12) -- (k12) -- (k13) -- (ol2.north -| k13);
\draw[wire] (ol2.south -| k13) -- (bo2s);
\draw[wire] (ep2.south -| xa2) |- (bo2d);
\draw[wire] (bo2o) -- (am2s);
\draw[wire] (mp2.south -| xa2) -- (mn2.north -| xa2) (mn2.south -| xa2) -- (lm2.north -| xa2);
\draw[wire] (lm2.south -| xa2) |- (am2d);
\draw[wire] (po2.south -| xa2) |- (sr2d);
\draw[wire] (am2o) |- (k14) -- (sr2s);
\draw[dot,arr] (di3b) -- (di3c) -- (am2o);
\draw[dot,arr] (di2b) -- (di2c) -- (sr2o);
\draw[dot,arr] (sr2o) -- (sr1o);
\draw[wire] (sr2o) -- (ot2.north -| sr2o);
\node[dotj] (j2) at (725.3,1293) {};
\draw[wire] (ot2.south -| sr2o) -- (j2) -- (rs2s);
\draw[dot] (j2) -| (cbt);
\draw[wire] (rt2.south -| k15) -- (k15) -- (rs2d);
\draw[wire] (rs2o) -- (dbt);
\draw[dot,arr] (cbb) -- (outr2);
\draw[wire] (dbb) -- (ap2.north -| dbb);
\draw[wire] (ap2.south -| dbb) -- (ds2.north -| dbb);
\draw[wire,arr] (ds2.south -| dbb) -- (outp2.north -| dbb);
% ---- RET & alarms wires
\draw[wire] (rb.south -| ebt) -- (ebt);
\draw[wire] (ebb) -- (rap.north -| ebb);
\draw[wire] (rap.south -| ebb) -- (rd.north -| ebb);
\draw[wire,arr] (rd.south -| ebb) -- (retc.north -| ebb);
\draw[dot] (alb.south -| pbt) -- (pbt) (alb.south -| qbt) -- (qbt) (alb.south -| rbt) -- (rbt);
\draw[dot,arr] (pbb) -- (al1);
\draw[dot,arr] (qbb) -- (al2);
\draw[dot,arr] (rbb) -- (al3);
% ---- legend
\coordinate (lg1) at (728.7,1618); \coordinate (lg2) at (728.7,1597); \coordinate (lg3) at (1193.5,1597); \coordinate (lg4) at (1193.5,1659); \coordinate (lg5) at (728.7,1638); \coordinate (lg6) at (728.7,1659);
\draw[wire] (lg1) -- (lg2) -- (lg3) -- (lg4) (lg5) -- (lg6);
\Tx{678.5}{753.3}{1628.7}{Обозначение}
\node[circle,draw=ink,fill=white,line width=1pt,minimum size=21.6pt,inner sep=0pt] (lgt) at (772.2,1616) {};
\Tx{801}{837.9}{1615.7}{Клемма}
\node[pill,draw=ink,minimum width=35.6pt] (lgp) at (926.8,1616.3) {};
\Tx{953.3}{1008.6}{1617.7}{Параметр}
\FB{lgf}{1058.4}{1095.6}{1607.3}{1624.7}{}
\Tx{1109}{1155.9}{1617.7}{Функция}
\coordinate (la1) at (757.5,1644); \coordinate (la2) at (786,1644);
\draw[wire,arr] (la1) -- (la2);
\Tx{793}{901}{1645}{Аналоговый сигнал}
\coordinate (lb1) at (912.3,1644); \coordinate (lb2) at (940.8,1644);
\draw[dot,arr] (lb1) -- (lb2);
\Tx{954.6}{1019.9}{1639}{Контактный}
\Tx{954.6}{991.8}{1649.3}{сигнал}
\draw[draw=ink,line width=1pt] (1050.8,1644) -- (1062,1636.7) -- (1092,1636.7) -- (1103.1,1644) -- (1092,1651.3) -- (1062,1651.3) -- cycle;
\Tx{1110.3}{1217}{1641}{Клавиша передней}
\Tx{1110.3}{1150}{1652}{панели}
\end{tikzpicture}
\end{document}
